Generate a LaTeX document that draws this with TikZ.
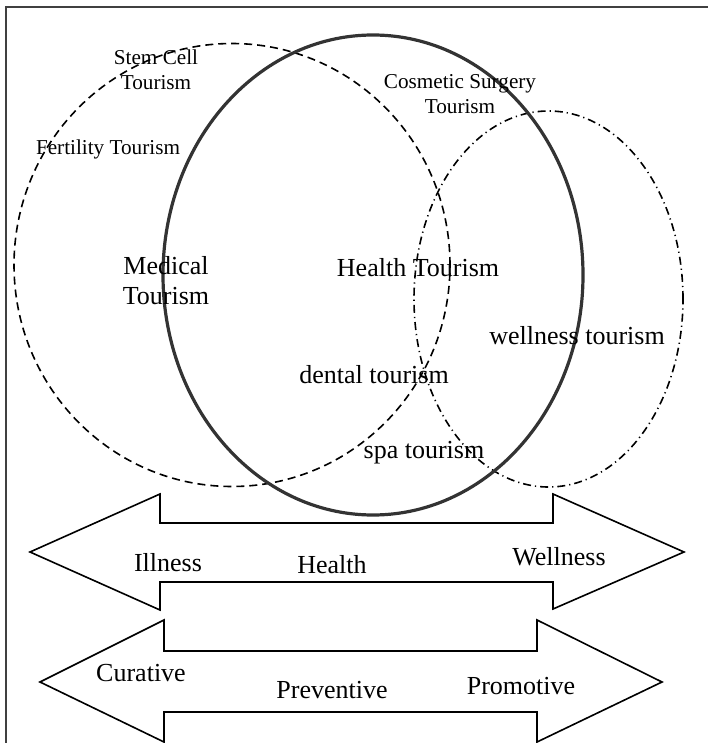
\documentclass[tikz,border=0pt]{standalone}
\usepackage{fontspec}
\setmainfont{Liberation Serif}
\usepackage{tikz}
\usetikzlibrary{calc}

\begin{document}
\begin{tikzpicture}[ x=0.5pt, y=-0.5pt, smalllabel/.style={font=\fontsize{10.6pt}{12.5pt}\selectfont,
      align=center, inner sep=0pt}, biglabel/.style={font=\fontsize{13pt}{15pt}\selectfont,
      align=center, inner sep=0pt}, medicalring/.style={draw=black, line width=0.8pt,
      dash pattern=on 4pt off 2.5pt}, healthring/.style={draw=black!80, line width=1.6pt},
      wellnessring/.style={draw=black, line width=0.8pt, dash pattern=on 4pt off 2pt on 0.6pt
      off 2pt}, bigarrow/.style={draw=black, fill=white, line width=0.8pt, line join=miter} ]

    \useasboundingbox (0,0) rectangle (708,743);

    % Frame
    \draw[black!75, line width=1pt] (6,743) -- (6,7) -- (708,7);

    % Centres of the three rings
    \coordinate (med) at (232,265); \coordinate (hlth) at (373,275);
    \coordinate (well) at (548.5,299);

    % Rings
    \draw[medicalring] (med) ellipse [x radius=109pt, y radius=110.75pt];
    \draw[wellnessring] (well) ellipse [x radius=67.25pt, y radius=94pt];
    \draw[healthring] (hlth) ellipse [x radius=105pt, y radius=120pt];

    % Labels inside the rings
    \node[smalllabel] (stem) at (156,70) {Stem Cell\\Tourism};
    \node[smalllabel] (fert) at (108,149) {Fertility Tourism};
    \node[smalllabel] (cosm) at (460,94) {Cosmetic Surgery\\Tourism};
    \node[biglabel] (medt) at (166,281) {Medical\\Tourism};
    \node[biglabel] (hlt) at (418,268) {Health Tourism};
    \node[biglabel] (wellt) at (577,336) {wellness tourism};
    \node[biglabel] (dent) at (374,375) {dental tourism};
    \node[biglabel] (spa) at (424,453) {spa tourism};

    % Upper double arrow
    \draw[bigarrow] (30,552) -- (160,494) -- (160,523) -- (553,523) -- (553,494) --
    (684,552) -- (553,609) -- (553,582) -- (160,582) -- (160,610) -- cycle;

    % Lower double arrow
    \draw[bigarrow] (40,682) -- (164,620) -- (164,651) -- (537,651) -- (537,620) --
    (662,682) -- (537,742) -- (537,712) -- (164,712) -- (164,742) -- cycle;

    % Arrow labels
    \node[biglabel] (ill) at (168,563) {Illness}; \node[biglabel] (hl) at (332,565)
    {Health}; \node[biglabel] (wl) at (559,557) {Wellness};
    \node[biglabel] (cur) at (141,673) {Curative}; \node[biglabel] (prev) at
    (332,690) {Preventive}; \node[biglabel] (prom) at (521,686) {Promotive};

\end{tikzpicture}
\end{document}
